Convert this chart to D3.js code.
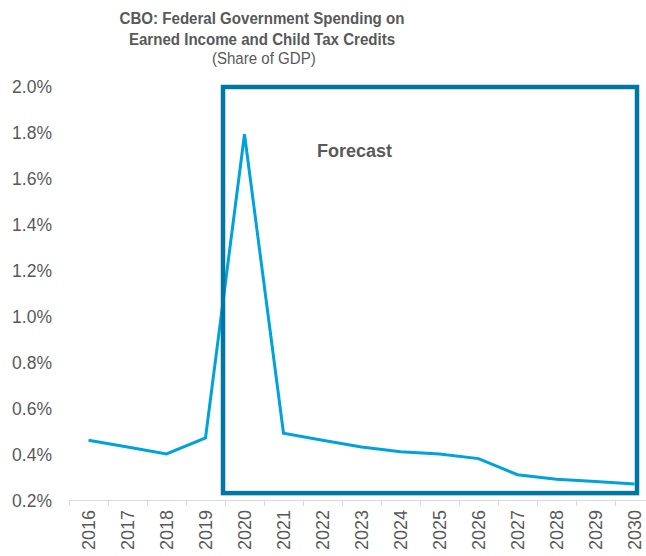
<!DOCTYPE html>
<html>
<head>
<meta charset="utf-8">
<script src="https://cdn.jsdelivr.net/npm/d3@7"></script>
<style>
  body { margin: 0; background: #fff; }
  svg { display: block; font-family: "Liberation Sans", Arial, sans-serif; }
</style>
</head>
<body>
<svg id="chart"></svg>
<script>
// Fiscal years, CBO share of GDP (%)
const years = ['2016', '2017', '2018', '2019', '2020', '2021', '2022', '2023',
  '2024', '2025', '2026', '2027', '2028', '2029', '2030'];
const spending = [0.46, 0.43, 0.40, 0.47, 1.79, 0.49, 0.46, 0.43,
  0.41, 0.40, 0.38, 0.31, 0.29, 0.28, 0.27];
const yTicks = [0.2, 0.4, 0.6, 0.8, 1.0, 1.2, 1.4, 1.6, 1.8, 2.0];
// forecast box: from the start of 2020 to the last year
const forecastStart = '2020';
const forecastEnd = '2030';
const forecastRange = [0.23, 2.0];

const width = 646;
const height = 556;
const margin = {top: 86, right: -8, bottom: 56, left: 69};
const textColor = '#595959';

const svg = d3.select('#chart')
    .attr('width', width)
    .attr('height', height);

const x = d3.scaleBand()
    .domain(years)
    .range([margin.left, width - margin.right]);

const y = d3.scaleLinear()
    .domain([0.2, 2.0])
    .range([height - margin.bottom, margin.top]);

// title (slightly condensed, like the original)
const title = svg.append('g')
    .attr('transform', 'translate(262,0) scale(0.915,1)')
    .attr('text-anchor', 'middle')
    .attr('fill', textColor);
title.append('text')
    .attr('x', 0).attr('y', 24)
    .attr('font-size', 16.5).attr('font-weight', 'bold')
    .text('CBO: Federal Government Spending on');
title.append('text')
    .attr('x', 0).attr('y', 45)
    .attr('font-size', 16.5).attr('font-weight', 'bold')
    .text('Earned Income and Child Tax Credits');
title.append('text')
    .attr('x', 2).attr('y', 64)
    .attr('font-size', 16.5)
    .text('(Share of GDP)');

// y axis (labels only)
svg.append('g')
    .attr('transform', `translate(${margin.left - 14},0)`)
    .call(d3.axisLeft(y).tickValues(yTicks)
        .tickFormat((d) => d.toFixed(1) + '%').tickSize(0))
    .call((g) => g.select('.domain').remove())
    .call((g) => g.selectAll('text')
        .attr('font-size', 17.5).attr('fill', textColor)
        .attr('font-family', null).attr('dy', '0.36em'));

// x axis
svg.append('g')
    .attr('transform', `translate(0,${y(0.2)})`)
    .call(d3.axisBottom(x).tickSize(0).tickSizeOuter(0))
    .call((g) => g.select('.domain').attr('stroke', '#d9d9d9'))
    .call((g) => g.selectAll('text')
        .attr('font-size', 18).attr('fill', textColor)
        .attr('font-family', null)
        .attr('transform', 'rotate(-90)')
        .attr('text-anchor', 'end')
        .attr('x', -10).attr('y', 0).attr('dy', '0.36em'));

// band boundary ticks
svg.append('g')
    .attr('stroke', '#d9d9d9')
    .selectAll('line')
    .data(years)
    .join('line')
    .attr('x1', (d) => x(d) + 0.5)
    .attr('x2', (d) => x(d) + 0.5)
    .attr('y1', y(0.2))
    .attr('y2', y(0.2) + 6);

// series line
const line = d3.line()
    .x((d, i) => x(years[i]) + x.bandwidth() / 2)
    .y((d) => y(d));

svg.append('path')
    .datum(spending)
    .attr('fill', 'none')
    .attr('stroke', '#00a2dc')
    .attr('stroke-width', 3)
    .attr('stroke-linejoin', 'miter')
    .attr('d', line);

// forecast box
const bx0 = x(forecastStart) - 2;
const bx1 = x(forecastEnd) + x.bandwidth() / 2 + 2.5;
svg.append('rect')
    .attr('x', bx0)
    .attr('y', y(forecastRange[1]) + 1)
    .attr('width', bx1 - bx0)
    .attr('height', y(forecastRange[0]) - y(forecastRange[1]) - 1)
    .attr('fill', 'none')
    .attr('stroke', '#0076a3')
    .attr('stroke-width', 4.5);

svg.append('text')
    .attr('x', 317)
    .attr('y', 157)
    .attr('font-size', 18)
    .attr('font-weight', 'bold')
    .attr('fill', textColor)
    .text('Forecast');
</script>
</body>
</html>
